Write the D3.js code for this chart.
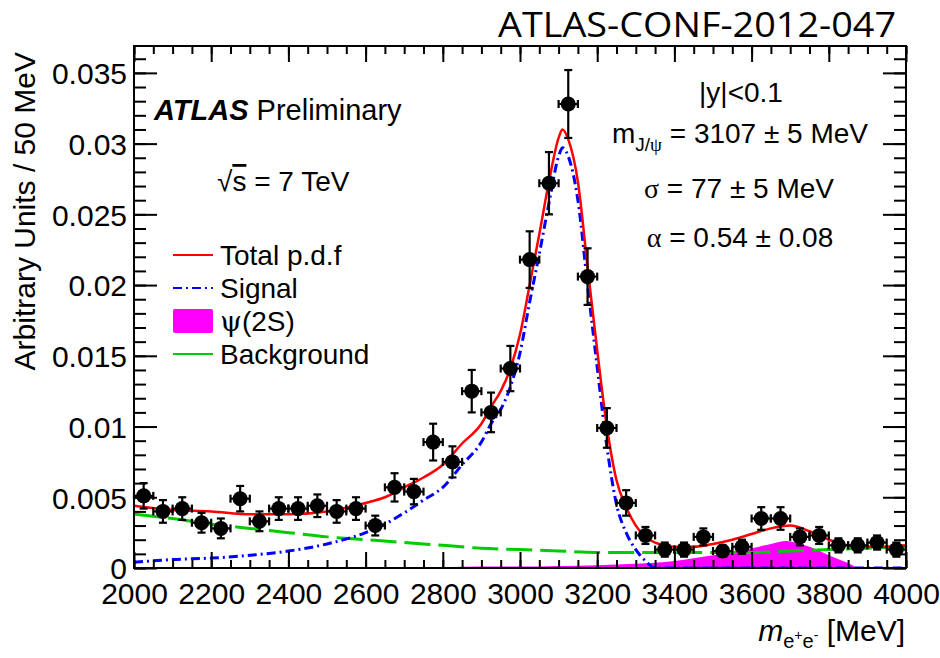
<!DOCTYPE html>
<html>
<head>
<meta charset="utf-8">
<script src="https://cdn.jsdelivr.net/npm/d3@7"></script>
<style>
  body { margin: 0; background: #fff; }
  text { font-family: "Liberation Sans", Arial, Helvetica, sans-serif; fill: #000; }
</style>
</head>
<body>
<div id="plot"></div>
<script>
// data points (bin centres, 50 MeV bins)
const massBins = [2025, 2075, 2125, 2175, 2225, 2275, 2325, 2375, 2425, 2475,
  2525, 2575, 2625, 2675, 2725, 2775, 2825, 2875, 2925, 2975,
  3025, 3075, 3125, 3175, 3225, 3275, 3325, 3375, 3425, 3475,
  3525, 3575, 3625, 3675, 3725, 3775, 3825, 3875, 3925, 3975];
const yields = [0.0051, 0.0040, 0.0042, 0.0032, 0.0028, 0.0049, 0.0033, 0.0042, 0.0042, 0.0044,
  0.0040, 0.0042, 0.0030, 0.0057, 0.0054, 0.0089, 0.0075, 0.0125, 0.0110, 0.0141,
  0.0218, 0.0272, 0.0328, 0.0206, 0.0099, 0.0046, 0.0023, 0.0013, 0.0013, 0.0022,
  0.0012, 0.0015, 0.0035, 0.0035, 0.0022, 0.0023, 0.0016, 0.0016, 0.0018, 0.0013];
const yieldErrors = [0.0009, 0.0008, 0.0008, 0.0007, 0.0007, 0.0009, 0.0007, 0.0008, 0.0008, 0.0008,
  0.0008, 0.0008, 0.0007, 0.0010, 0.0009, 0.0013, 0.0011, 0.0015, 0.0014, 0.0016,
  0.0020, 0.0022, 0.0024, 0.0020, 0.0014, 0.0009, 0.0006, 0.0005, 0.0005, 0.0006,
  0.0004, 0.0005, 0.0008, 0.0008, 0.0006, 0.0006, 0.0005, 0.0005, 0.0005, 0.0005];
const binHalfWidth = 25;

// fit curves
const curveMass = [2000, 2100, 2200, 2300, 2400, 2500, 2600, 2650, 2700, 2750,
  2800, 2850, 2900, 2925, 2950, 2975, 3000, 3025, 3050, 3075,
  3100, 3110, 3125, 3150, 3175, 3200, 3225, 3250, 3275, 3300,
  3325, 3350, 3375, 3400, 3450, 3500, 3550, 3600, 3650, 3700,
  3750, 3800, 3850, 3900, 3950, 4000];
const totalPdf = [0.0044, 0.0041, 0.0040, 0.0038, 0.0038, 0.0040, 0.0046, 0.0050, 0.0057, 0.0064,
  0.0073, 0.0088, 0.0102, 0.0114, 0.0125, 0.0141, 0.0165, 0.0200, 0.0236, 0.0273,
  0.0304, 0.0310, 0.0303, 0.0273, 0.0213, 0.0154, 0.0100, 0.0062, 0.0043, 0.0030,
  0.0022, 0.0018, 0.0016, 0.0015, 0.0015, 0.0017, 0.0020, 0.0024, 0.0028, 0.0030,
  0.0026, 0.0020, 0.0016, 0.0015, 0.0015, 0.0016];
const signalPdf = [0.0004, 0.0006, 0.0007, 0.0009, 0.0012, 0.0017, 0.0025, 0.0031, 0.0039, 0.0048,
  0.0057, 0.0073, 0.0089, 0.0102, 0.0112, 0.0128, 0.0152, 0.0188, 0.0222, 0.0258,
  0.0291, 0.0297, 0.0291, 0.0260, 0.0200, 0.0142, 0.0086, 0.0045, 0.0025, 0.0013,
  0.0005, 0.0000, 0.0000, 0.0000, 0.0000, 0.0000, 0.0000, 0.0000, 0.0000, 0.0000,
  0.0000, 0.0000, 0.0000, 0.0000, 0.0000, 0.0000];

const bgMass = [2000, 2100, 2200, 2300, 2400, 2500, 2600, 2700, 2800, 2900, 3000,
  3100, 3200, 3300, 3400, 3500, 3600, 3700, 3800, 3900, 4000];
const background = [0.0038, 0.0035, 0.0031, 0.0028, 0.0025, 0.0022, 0.0020, 0.0018, 0.0016, 0.0014, 0.0013,
  0.0012, 0.0011, 0.0011, 0.0011, 0.0011, 0.0011, 0.0012, 0.0013, 0.0014, 0.0015];

const psiMass = [2750, 2800, 2900, 3000, 3100, 3200, 3300, 3400, 3500, 3550,
  3600, 3650, 3690, 3725, 3750, 3800, 3850, 3880, 4000];
const psi2S = [0.0000, 0.00005, 0.0001, 0.0001, 0.00015, 0.0002, 0.0003, 0.0005, 0.0009, 0.0011,
  0.0014, 0.0017, 0.0019, 0.0017, 0.0015, 0.0009, 0.00035, 0.0000, 0.0000];

const xTicks = [2000, 2200, 2400, 2600, 2800, 3000, 3200, 3400, 3600, 3800, 4000];
const yTicks = [0, 0.005, 0.01, 0.015, 0.02, 0.025, 0.03, 0.035];
const yTickLabels = ["0", "0.005", "0.01", "0.015", "0.02", "0.025", "0.03", "0.035"];

// layout
const margin = { top: 46, right: 34, bottom: 90, left: 134 },
    width = 940 - margin.left - margin.right,
    height = 658 - margin.top - margin.bottom;

const svg = d3.select("#plot")
    .append("svg")
    .attr("width", 940)
    .attr("height", 658);

const g = svg.append("g")
    .attr("transform", `translate(${margin.left},${margin.top})`);

const x = d3.scaleLinear().domain([2000, 4000]).range([0, width]);
const y = d3.scaleLinear().domain([0, 0.0369]).range([height, 0]);

g.append("clipPath").attr("id", "clip")
  .append("rect").attr("width", width).attr("height", height);

const plot = g.append("g").attr("clip-path", "url(#clip)");

// psi(2S) filled component
const psiPts = psiMass.map((m, i) => [m, psi2S[i]]);
plot.append("path")
    .datum(psiPts)
    .attr("fill", "#ff00ff")
    .attr("d", d3.area()
      .x(d => x(d[0]))
      .y0(y(0))
      .y1(d => y(d[1]))
      .curve(d3.curveMonotoneX));

const line = d3.line()
    .x(d => x(d[0]))
    .y(d => y(d[1]))
    .curve(d3.curveMonotoneX);

// background
plot.append("path")
    .datum(bgMass.map((m, i) => [m, background[i]]))
    .attr("fill", "none")
    .attr("stroke", "#00cc00")
    .attr("stroke-width", 3)
    .attr("stroke-dasharray", "26,8")
    .attr("d", line);

// signal
plot.append("path")
    .datum(curveMass.map((m, i) => [m, signalPdf[i]]))
    .attr("fill", "none")
    .attr("stroke", "#0000ff")
    .attr("stroke-width", 3)
    .attr("stroke-dasharray", "9,4,2,4")
    .attr("d", line);

// total
plot.append("path")
    .datum(curveMass.map((m, i) => [m, totalPdf[i]]))
    .attr("fill", "none")
    .attr("stroke", "#ff0000")
    .attr("stroke-width", 2.5)
    .attr("d", line);

// data points with error bars
const pts = massBins.map((m, i) => ({ m: m, v: yields[i], e: yieldErrors[i] }));
const cap = 4;
const pg = g.append("g").attr("stroke", "#000").attr("stroke-width", 2.2);
pts.forEach(d => {
  const cx = x(d.m), cy = y(d.v);
  const x0 = x(d.m - binHalfWidth), x1 = x(d.m + binHalfWidth);
  const y0 = y(d.v - d.e), y1 = y(d.v + d.e);
  pg.append("line").attr("x1", cx).attr("x2", cx).attr("y1", y0).attr("y2", y1);
  pg.append("line").attr("x1", x0).attr("x2", x1).attr("y1", cy).attr("y2", cy);
  pg.append("line").attr("x1", cx - cap).attr("x2", cx + cap).attr("y1", y0).attr("y2", y0);
  pg.append("line").attr("x1", cx - cap).attr("x2", cx + cap).attr("y1", y1).attr("y2", y1);
  pg.append("line").attr("x1", x0).attr("x2", x0).attr("y1", cy - cap).attr("y2", cy + cap);
  pg.append("line").attr("x1", x1).attr("x2", x1).attr("y1", cy - cap).attr("y2", cy + cap);
});
g.append("g").selectAll("circle")
    .data(pts)
    .enter()
    .append("circle")
    .attr("cx", d => x(d.m))
    .attr("cy", d => y(d.v))
    .attr("r", 7.5)
    .attr("fill", "#000");

// axes (ROOT style: ticks inside on all four sides)
const xMinor = d3.range(2000, 4001, 50);
const yMinor = d3.range(0, 0.0365, 0.001);

function styleAxis(sel) {
  sel.select(".domain").remove();
  sel.selectAll("line").attr("stroke", "#000").attr("stroke-width", 2);
}

g.append("g").attr("transform", `translate(0,${height})`)
  .call(d3.axisBottom(x).tickValues(xMinor).tickSize(-8).tickFormat(""))
  .call(styleAxis);
g.append("g").attr("transform", `translate(0,${height})`)
  .call(d3.axisBottom(x).tickValues(xTicks).tickSize(-16).tickPadding(36).tickFormat(d3.format("d")))
  .call(styleAxis)
  .selectAll("text").style("font-size", "30px").attr("dy", "0");
g.append("g")
  .call(d3.axisTop(x).tickValues(xMinor).tickSize(-8).tickFormat(""))
  .call(styleAxis);
g.append("g")
  .call(d3.axisTop(x).tickValues(xTicks).tickSize(-16).tickFormat(""))
  .call(styleAxis);

g.append("g")
  .call(d3.axisLeft(y).tickValues(yMinor).tickSize(-12).tickFormat(""))
  .call(styleAxis);
g.append("g")
  .call(d3.axisLeft(y).tickValues(yTicks).tickSize(-23).tickPadding(7)
    .tickFormat((d, i) => yTickLabels[i]))
  .call(styleAxis)
  .selectAll("text").style("font-size", "30px").attr("dy", "0.36em")
  .attr("x", -7);
g.append("g").attr("transform", `translate(${width},0)`)
  .call(d3.axisRight(y).tickValues(yMinor).tickSize(-12).tickFormat(""))
  .call(styleAxis);
g.append("g").attr("transform", `translate(${width},0)`)
  .call(d3.axisRight(y).tickValues(yTicks).tickSize(-23).tickFormat(""))
  .call(styleAxis);

// frame
g.append("rect")
    .attr("width", width)
    .attr("height", height)
    .attr("fill", "none")
    .attr("stroke", "#000")
    .attr("stroke-width", 2);

// axis titles
svg.append("text")
    .attr("transform", "translate(35,52) rotate(-90)")
    .attr("text-anchor", "end")
    .style("font-size", "30px")
    .text("Arbitrary Units / 50 MeV");

const xt = svg.append("text")
    .attr("x", 905).attr("y", 641)
    .attr("text-anchor", "end")
    .style("font-size", "30px");
xt.append("tspan").style("font-style", "italic").text("m");
xt.append("tspan").attr("dy", 7).style("font-size", "20px").text("e");
xt.append("tspan").attr("dy", -8).style("font-size", "14px").text("+");
xt.append("tspan").attr("dy", 8).style("font-size", "20px").text("e");
xt.append("tspan").attr("dy", -8).style("font-size", "14px").text("-");
xt.append("tspan").attr("dy", 1).text(" [MeV]");

// conference note label
svg.append("text")
    .attr("x", 896).attr("y", 37)
    .attr("text-anchor", "end")
    .attr("textLength", 398)
    .attr("lengthAdjust", "spacingAndGlyphs")
    .style("font-family", "'Open Sans', sans-serif")
    .style("font-size", "35px")
    .text("ATLAS-CONF-2012-047");

// ATLAS Preliminary
const at = svg.append("text").attr("x", 154).attr("y", 120).style("font-size", "29px");
at.append("tspan").style("font-weight", "bold").style("font-style", "italic").text("ATLAS");
at.append("tspan").text(" Preliminary");

// sqrt(s)
const rs = svg.append("text").attr("x", 217).attr("y", 191).style("font-size", "28px");
rs.append("tspan").text("√");
rs.append("tspan").style("text-decoration", "overline").text("s");
rs.append("tspan").text(" = 7 TeV");

// legend
const legendRows = [
  { label: "Total p.d.f", color: "#ff0000", dash: null, y: 255 },
  { label: "Signal", color: "#0000ff", dash: "9,4,2,4", y: 288 },
  { label: "(2S)", color: "#ff00ff", box: true, y: 321 },
  { label: "Background", color: "#00cc00", dash: null, y: 354 }
];
legendRows.forEach(r => {
  if (r.box) {
    svg.append("rect").attr("x", 173).attr("y", r.y - 12).attr("width", 40).attr("height", 24)
      .attr("rx", 2).attr("fill", r.color);
  } else {
    svg.append("line").attr("x1", 173).attr("x2", 213).attr("y1", r.y).attr("y2", r.y)
      .attr("stroke", r.color).attr("stroke-width", 2)
      .attr("stroke-dasharray", r.dash);
  }
  const t = svg.append("text").attr("x", 220).attr("y", r.y + 10).style("font-size", "28px");
  if (r.box) {
    t.append("tspan").style("font-family", "'DejaVu Serif', 'Liberation Serif', serif").text("ψ");
  }
  t.append("tspan").text(r.label);
});

// fit results
const ann = svg.append("g").attr("text-anchor", "middle").style("font-size", "28px");
ann.append("text").attr("x", 741).attr("y", 102).text("|y|<0.1");
const mj = ann.append("text").attr("x", 740).attr("y", 143);
mj.append("tspan").text("m");
mj.append("tspan").attr("dy", 8).style("font-size", "19px").text("J/");
mj.append("tspan").style("font-size", "19px").style("font-family", "'Liberation Serif', serif").text("ψ");
mj.append("tspan").attr("dy", -8).text(" = 3107 ± 5 MeV");
const sg = ann.append("text").attr("x", 739).attr("y", 198);
sg.append("tspan").style("font-family", "'Liberation Serif', serif").text("σ");
sg.append("tspan").text(" = 77 ± 5 MeV");
const al = ann.append("text").attr("x", 740).attr("y", 247);
al.append("tspan").style("font-family", "'Liberation Serif', serif").text("α");
al.append("tspan").text(" = 0.54 ± 0.08");
</script>
</body>
</html>
